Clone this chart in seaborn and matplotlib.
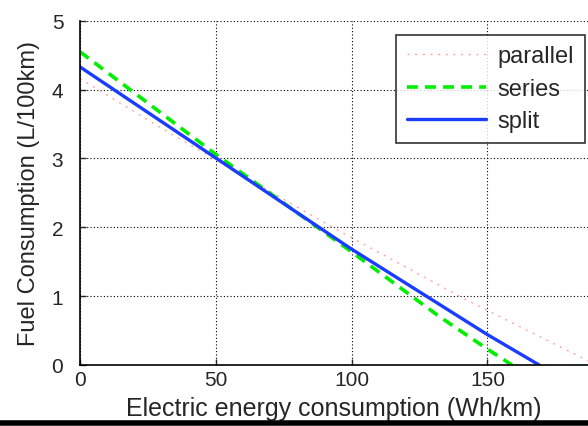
import matplotlib
matplotlib.use("Agg")
import matplotlib.pyplot as plt
import seaborn as sns
from matplotlib.lines import Line2D

# values
parallel_x = [0, 31.7, 77, 94.4, 141, 184, 190]
parallel_y = [4.16, 3.40, 2.36, 1.97, 0.97, 0.12, 0.0]
series_x = [0, 50, 98, 132.4, 150, 159]
series_y = [4.55, 3.06, 1.70, 0.70, 0.23, 0.0]
split_x = [0, 54.4, 99.3, 150, 169]
split_y = [4.33, 2.89, 1.70, 0.44, 0.0]

x_ticks = [0, 50, 100, 150]
y_ticks = [0, 1, 2, 3, 4, 5]

sns.set_style("ticks")
plt.rcParams['font.family'] = ['Liberation Sans', 'DejaVu Sans']

fig = plt.figure(figsize=(5.88, 4.27), dpi=100)
ax = fig.add_axes([0.136, 0.143, 0.864, 0.806])

sns.lineplot(x=parallel_x, y=parallel_y, ax=ax, color='#ffa5a5', lw=1.0,
             linestyle=(0, (1.5, 4)), label='parallel')
sns.lineplot(x=series_x, y=series_y, ax=ax, color='#00ee00', lw=2.6,
             linestyle=(0, (3, 2)), label='series')
sns.lineplot(x=split_x, y=split_y, ax=ax, color='#1a3cff', lw=2.4,
             label='split')

ax.set_xlim(0, 187)
ax.set_ylim(0, 5)
ax.set_xticks(x_ticks)
ax.set_yticks(y_ticks)
ax.grid(True, color='black', linestyle=(0, (1, 2)), linewidth=0.8)
ax.tick_params(direction='in', length=4, labelsize=15, width=1)
ax.tick_params(axis='x', pad=4)
ax.tick_params(axis='y', pad=12)
for s in ['top', 'right']:
    ax.spines[s].set_visible(False)
for s in ['left', 'bottom']:
    ax.spines[s].set_linewidth(1.2)
    ax.spines[s].set_color('black')

ax.set_xlabel('Electric energy consumption (Wh/km)', fontsize=18, labelpad=5)
ax.set_ylabel('Fuel Consumption (L/100km)', fontsize=17, labelpad=8)

leg = ax.legend(loc='upper right', bbox_to_anchor=(0.994, 0.96), fontsize=17,
                frameon=True, fancybox=False, handlelength=3.35,
                handletextpad=0.5, borderpad=0.45, labelspacing=0.45,
                borderaxespad=0)
leg.get_frame().set_edgecolor('black')
leg.get_frame().set_linewidth(1.2)

# thick rule along the bottom edge of the image
fig.add_artist(Line2D([0, 1], [0.006, 0.006], transform=fig.transFigure,
                      color='black', lw=4))

fig.savefig('out.png', dpi=100)
